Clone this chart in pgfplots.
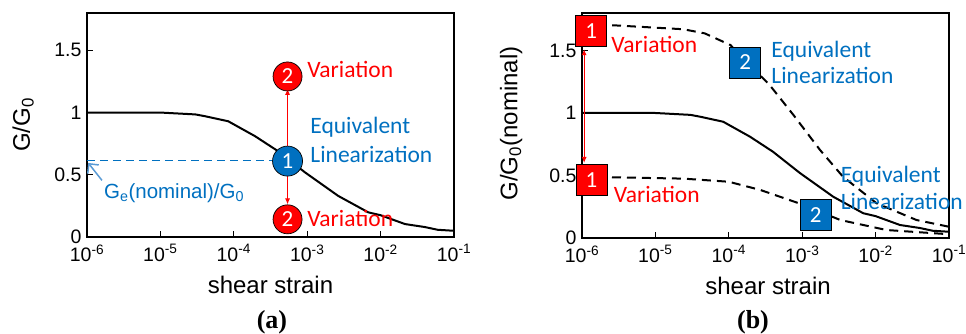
\documentclass[border=0pt]{standalone}
\usepackage{pgfplots}
\pgfplotsset{compat=1.18}
\usepackage{pgfplotstable}
\usepackage{fontspec}
\setmainfont{Liberation Sans}
\newfontfamily\calfont{Carlito}
\newfontfamily\serffont{Liberation Serif}
\usetikzlibrary{arrows.meta}
\definecolor{exblue}{HTML}{0070C0}
\definecolor{liteblue}{HTML}{5B9BD5}
\definecolor{vred}{RGB}{255,0,0}

% modulus reduction curves
\pgfplotstableread{
x y
1e-6 1.0
1e-5 1.0
3e-5 0.985
4.1e-5 0.97
8.4e-5 0.93
1.95e-4 0.81
4.0e-4 0.69
9.3e-4 0.52
2.65e-3 0.33
6.8e-3 0.198
1.0e-2 0.175
2.15e-2 0.104
4e-2 0.08
6e-2 0.058
1e-1 0.05
}\nominalcurve
\pgfplotstableread{
x y
1e-6 1.70
3e-6 1.70
2.4e-5 1.67
4.7e-5 1.637
1.05e-4 1.544
3.6e-4 1.224
7.6e-4 0.984
1.75e-3 0.704
3.6e-3 0.49
1.03e-2 0.278
3.6e-2 0.144
1e-1 0.09
}\uppercurve
\pgfplotstableread{
x y
1e-6 0.49
2.4e-5 0.475
1e-4 0.45
2.7e-4 0.384
9.3e-4 0.275
3.3e-3 0.144
1.4e-2 0.064
1e-1 0.03
}\lowercurve

\pgfplotsset{
  every axis/.append style={
    scale only axis, width=367pt,
    xmin=1e-6, xmax=1e-1, ymin=0, ymax=1.8,
    clip=false, tick pos=left, tick align=inside,
    xminorticks=false, yminorticks=false,
    major tick length=6pt,
    major tick style={line width=0.7pt, black},
    axis line style={line width=2.4pt},
    xtick={1e-6,1e-5,1e-4,1e-3,1e-2,1e-1},
    xticklabels={10\textsuperscript{-6},10\textsuperscript{-5},10\textsuperscript{-4},10\textsuperscript{-3},10\textsuperscript{-2},10\textsuperscript{-1}},
    ytick={0,0.5,1,1.5}, yticklabels={0,0.5,1,1.5},
    xticklabel style={font=\fontsize{19.5}{21}\selectfont, yshift=-4pt},
    yticklabel style={font=\fontsize{19.5}{21}\selectfont, xshift=-2pt},
    xlabel style={font=\fontsize{24}{26}\selectfont},
    ylabel style={font=\fontsize{24}{26}\selectfont},
    xlabel={shear strain},
    every node near coord/.style={anchor=center, text=white,
      font=\calfont\fontsize{23}{24}\selectfont},
  },
}
\tikzset{note/.style={anchor=base west, inner sep=0pt,
  font=\calfont\fontsize{23.5}{24}\selectfont}}

\begin{document}
\begin{tikzpicture}
\useasboundingbox (-87pt,-97pt) rectangle (879pt,237pt);

% (a) equivalent linearization with a nominal modulus
\begin{semilogxaxis}[height=224pt, at={(0pt,0pt)}, anchor=south west,
  ylabel={G/G\textsubscript{0}},
  xlabel style={at={(axis description cs:0.5,-0.214)}, anchor=center},
  ylabel style={at={(axis description cs:-0.174,0.5)}, anchor=center},
]
\addplot[black, line width=2pt] table {\nominalcurve};
\addplot[exblue, line width=1.3pt, dash pattern=on 8pt off 5pt] coordinates {(1e-6,0.615) (5.4e-4,0.615)};
\addplot[liteblue, line width=1.5pt, -{Straight Barb[length=7pt]}] coordinates {(1.6e-6,0.455) (1.04e-6,0.595)};
\addplot[vred, line width=0.9pt, -{Latex[length=6pt,width=5pt]}] coordinates {(5.4e-4,0.73) (5.4e-4,1.19)};
\addplot[vred, line width=0.9pt, -{Latex[length=6pt,width=5pt]}] coordinates {(5.4e-4,0.51) (5.4e-4,0.262)};
\addplot[only marks, draw=black, line width=0.7pt, nodes near coords={1}, mark=*, mark size=15pt, fill=exblue] coordinates {(5.4e-4,0.61)};
\addplot[only marks, draw=black, line width=0.7pt, nodes near coords={2}, mark=*, mark size=14.5pt, fill=vred] coordinates {(5.4e-4,1.29)};
\addplot[only marks, draw=black, line width=0.7pt, nodes near coords={2}, mark=*, mark size=14.5pt, fill=vred] coordinates {(5.4e-4,0.142)};
\node[note, text=vred] at (axis cs:1e-3,1.278) {Variation};
\node[note, text=vred] at (axis cs:1e-3,0.082) {Variation};
\node[note, text=exblue] at (axis cs:1.1e-3,0.83) {Equivalent};
\node[note, text=exblue] at (axis cs:1.1e-3,0.602) {Linearization};
\node[anchor=base west, inner sep=0pt, text=exblue, font=\fontsize{20.5}{22}\selectfont]
  at (axis cs:1.7e-6,0.31) {G\textsubscript{e}(nominal)/G\textsubscript{0}};
\node[font=\serffont\bfseries\fontsize{26}{28}\selectfont] at (axis description cs:0.504,-0.379) {(a)};
\end{semilogxaxis}

% (b) variation of the initial modulus
\begin{semilogxaxis}[height=225pt, at={(495pt,-1pt)}, anchor=south west,
  ylabel={G/G\textsubscript{0}(nominal)},
  xlabel style={at={(axis description cs:0.507,-0.213)}, anchor=center},
  ylabel style={at={(axis description cs:-0.193,0.509)}, anchor=center},
]
\addplot[black, line width=2pt] table {\nominalcurve};
\addplot[black, line width=2pt, dash pattern=on 9pt off 6pt] table {\uppercurve};
\addplot[black, line width=2pt, dash pattern=on 9pt off 6pt] table {\lowercurve};
\addplot[vred, line width=1pt, {Latex[length=6pt,width=5pt]}-{Latex[length=6pt,width=5pt]}] coordinates {(1.07e-6,1.51) (1.07e-6,0.60)};
\addplot[only marks, draw=black, line width=0.7pt, nodes near coords={1}, mark=square*, mark size=15.5pt, fill=vred] coordinates {(1.33e-6,1.658)};
\addplot[only marks, draw=black, line width=0.7pt, nodes near coords={1}, mark=square*, mark size=15.5pt, fill=vred] coordinates {(1.35e-6,0.466)};
\addplot[only marks, draw=black, line width=0.7pt, nodes near coords={2}, mark=square*, mark size=15.5pt, fill=exblue] coordinates {(1.67e-4,1.404)};
\addplot[only marks, draw=black, line width=0.7pt, nodes near coords={2}, mark=square*, mark size=15.5pt, fill=exblue] coordinates {(1.53e-3,0.184)};
\node[note, text=vred] at (axis cs:2.5e-6,1.482) {Variation};
\node[note, text=vred] at (axis cs:2.7e-6,0.283) {Variation};
\node[note, text=exblue] at (axis cs:3.79e-4,1.445) {Equivalent};
\node[note, text=exblue] at (axis cs:3.79e-4,1.232) {Linearization};
\node[note, text=exblue] at (axis cs:3.34e-3,0.443) {Equivalent};
\node[note, text=exblue] at (axis cs:3.34e-3,0.23) {Linearization};
\node[font=\serffont\bfseries\fontsize{26}{28}\selectfont] at (axis description cs:0.466,-0.373) {(b)};
\end{semilogxaxis}
\end{tikzpicture}
\end{document}
